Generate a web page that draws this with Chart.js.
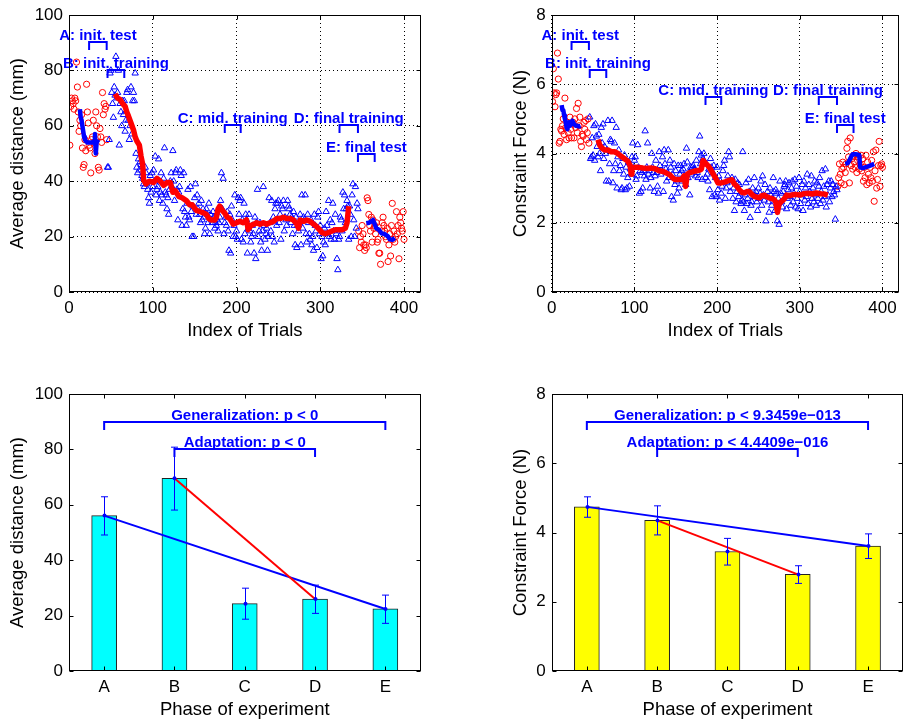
<!DOCTYPE html>
<html>
<head>
<meta charset="utf-8">
<script src="https://cdn.jsdelivr.net/npm/chart.js@4.4.1/dist/chart.umd.min.js"></script>
<style>
  html, body { margin: 0; padding: 0; background: #fff; }
  #wrap { position: relative; width: 904px; height: 724px; overflow: hidden; }
  canvas { position: absolute; }
</style>
</head>
<body>
<div id="wrap">
  <canvas id="distTrials" width="452" height="362" style="left:0;top:0"></canvas>
  <canvas id="forceTrials" width="452" height="362" style="left:452px;top:0"></canvas>
  <canvas id="distPhases" width="452" height="362" style="left:0;top:362px"></canvas>
  <canvas id="forcePhases" width="452" height="362" style="left:452px;top:362px"></canvas>
</div>
<script>
const trialTicks = [0, 100, 200, 300, 400];
const phases = ['A', 'B', 'C', 'D', 'E'];
const phaseNames = ['A: init. test', 'B: init. training', 'C: mid. training', 'D: final training', 'E: final test'];
const phaseWindows = [[24, 45], [46, 66], [186, 205], [323, 345], [345, 365]];
const firstTrain = 46;
const firstTest2 = 346;

// average distance (mm), trials 1-45 / 46-345 / 346-400
const distTest1 = [
    53, 67, 70, 69, 68, 66, 70, 69, 83, 74,
    65, 58, 62, 60, 64, 52, 45, 46, 55, 51,
    75, 65, 61, 53, 52, 43, 55, 56, 62, 54,
    50, 65, 60, 56, 45, 44, 59, 56, 54, 72,
    64, 68, 66, 67, 55
];
const distTrain = [
    45, 45, 55, 79, 80, 72, 68, 63, 74, 71,
    85, 70, 72, 80, 53, 68, 65, 60, 69, 64,
    69, 58, 62, 72, 73, 62, 55, 60, 74, 57,
    69, 72, 69, 79, 50, 45, 43, 48, 44, 47,
    46, 42, 41, 39, 38, 45, 43, 39, 37, 34,
    32, 42, 36, 43, 38, 44, 40, 49, 35, 37,
    38, 48, 33, 36, 43, 35, 32, 41, 52, 36,
    35, 30, 34, 28, 37, 40, 43, 38, 51, 40,
    33, 43, 44, 37, 26, 36, 38, 44, 42, 24,
    30, 43, 29, 27, 24, 32, 37, 27, 26, 38,
    29, 20, 31, 20, 34, 39, 28, 35, 30, 32,
    28, 25, 33, 26, 30, 27, 21, 23, 30, 28,
    25, 32, 21, 28, 26, 25, 29, 27, 23, 25,
    24, 26, 22, 25, 27, 33, 43, 30, 41, 21,
    25, 27, 24, 29, 22, 15, 28, 14, 31, 26,
    20, 24, 35, 20, 22, 19, 34, 28, 33, 34,
    19, 26, 18, 32, 21, 28, 26, 14, 23, 28,
    22, 18, 20, 24, 21, 14, 27, 12, 25, 37,
    20, 22, 25, 18, 15, 22, 38, 24, 19, 21,
    23, 15, 20, 34, 25, 22, 33, 20, 27, 18,
    30, 32, 24, 32, 33, 25, 28, 19, 31, 30,
    33, 22, 27, 26, 24, 33, 31, 30, 28, 25,
    27, 21, 29, 24, 17, 27, 16, 24, 22, 25,
    28, 17, 35, 23, 27, 26, 35, 21, 18, 28,
    25, 21, 19, 26, 17, 20, 15, 28, 24, 22,
    16, 27, 29, 21, 24, 12, 20, 13, 18, 23,
    17, 29, 24, 21, 33, 20, 26, 19, 25, 32,
    22, 19, 28, 21, 12, 8, 19, 20, 27, 26,
    22, 36, 30, 35, 25, 30, 33, 31, 19, 31,
    28, 20, 35, 39, 26, 20, 38, 23, 32, 30
];
const distTest2 = [
    22, 16, 20, 18, 24, 21, 17, 15, 17, 16,
    34, 33, 28, 24, 22, 27, 18, 26, 23, 24,
    21, 25, 18, 19, 14, 14, 10, 22, 25, 27,
    24, 22, 20, 19, 23, 11, 17, 21, 13, 24,
    32, 19, 22, 18, 20, 29, 21, 24, 12, 27,
    25, 23, 22, 29, 19
];
const distTestLine1 = [[13, 66], [14, 63], [15, 62], [16, 60], [17, 58], [18, 56], [19, 55], [20, 54.5], [22, 54], [25, 54], [28, 54], [30, 54.5], [31, 57], [32, 50], [33, 54], [35, 55]];
const distTestLine2 = [[355, 24.8], [358, 25], [361, 25.5], [363, 26], [365, 24.5], [367, 23], [370, 22.5], [373, 21.2], [376, 21], [379, 20.5], [381, 20], [383, 19], [386, 18.8], [389, 19.5]];
const distTrainLine = [
    [55, 71.5], [58, 70], [61, 69.5], [64, 68], [67, 67], [69, 65], [71, 63.5], [74, 61], [77, 58.5], [79, 56],
    [81, 54.5], [84, 53], [86, 49], [88, 46], [89, 40.5], [92, 39], [96, 40], [101, 39.5], [105, 41], [109, 40],
    [113, 38.5], [117, 39.5], [121, 39.5], [124, 36], [127, 36.5], [131, 34.5], [135, 34], [140, 33], [144, 31.5], [147, 31.5],
    [152, 29.5], [157, 29], [161, 28.5], [164, 28], [167, 26.5], [170, 26], [174, 26], [176, 27], [178, 30], [180, 31],
    [183, 29.5], [186, 28.5], [189, 27], [192, 26.5], [196, 24.5], [200, 25], [204, 25.5], [208, 25], [212, 26], [214, 22.5],
    [217, 24], [221, 24.5], [224, 25], [228, 24.5], [232, 25], [236, 24.5], [240, 25], [244, 25.5], [248, 26.5], [252, 26.5],
    [256, 27], [260, 26.5], [264, 26.5], [268, 26], [272, 24.5], [274, 23], [276, 26], [280, 25.5], [284, 26], [288, 25.5],
    [292, 24.5], [296, 23.5], [299, 22.5], [302, 21.5], [306, 21], [310, 21.5], [314, 22], [318, 22.5], [322, 22.5], [326, 22.5],
    [330, 23], [332, 25], [334, 31]
];

// constraint force (N)
const forceTest1 = [
    5.5, 6.45, 5.75, 5.35, 5.7, 5.75, 6.9, 6.15, 4.3, 4.35,
    4.7, 4.65, 4.8, 5.0, 4.55, 5.6, 4.75, 4.4, 4.9, 4.6,
    4.45, 5.05, 4.7, 4.45, 4.85, 4.9, 4.45, 5.0, 4.75, 5.3,
    4.6, 5.45, 4.8, 5.05, 4.35, 4.2, 4.55, 4.5, 4.9, 4.7,
    4.95, 4.4, 4.6, 5.0, 4.3
];
const forceTrain = [
    5.05, 3.85, 3.9, 4.45, 3.95, 4.8, 3.8, 4.85, 4.5, 4.2,
    3.9, 4.55, 4.0, 3.5, 4.75, 4.3, 4.85, 3.85, 4.2, 4.0,
    3.2, 4.1, 4.95, 3.2, 3.7, 4.4, 4.35, 4.95, 3.15, 3.5,
    4.3, 3.7, 4.75, 3.0, 3.9, 4.1, 3.5, 3.65, 2.95, 3.0,
    3.85, 3.4, 3.95, 2.95, 3.6, 3.0, 3.3, 3.75, 3.05, 3.55,
    3.4, 3.9, 4.3, 3.6, 3.8, 3.9, 3.25, 3.35, 4.25, 3.6,
    2.85, 3.5, 2.9, 3.45, 3.0, 3.5, 3.35, 4.65, 3.25, 3.6,
    4.3, 3.4, 3.5, 3.0, 3.3, 4.0, 3.6, 3.45, 2.9, 3.35,
    3.8, 3.45, 3.05, 2.85, 4.05, 3.65, 3.4, 3.5, 3.9, 2.9,
    4.1, 3.7, 3.55, 3.2, 3.45, 4.1, 3.3, 3.8, 3.6, 2.75,
    3.4, 2.65, 3.7, 3.1, 3.5, 3.2, 2.85, 3.65, 3.0, 3.4,
    3.65, 3.5, 3.2, 3.55, 3.7, 3.35, 3.1, 4.15, 3.75, 3.3,
    3.45, 2.8, 3.6, 3.4, 3.6, 3.65, 3.55, 3.55, 3.35, 3.8,
    3.45, 3.3, 4.05, 4.5, 3.7, 3.95, 3.25, 3.85, 4.0, 3.75,
    3.3, 3.7, 3.4, 3.2, 3.55, 2.95, 3.85, 3.6, 2.75, 3.45,
    3.65, 2.8, 3.3, 2.75, 3.6, 2.95, 3.35, 2.65, 3.2, 2.85,
    3.05, 3.5, 3.65, 3.8, 2.7, 3.0, 3.15, 3.35, 4.05, 3.9,
    2.9, 3.2, 3.3, 2.7, 3.0, 2.35, 3.25, 2.6, 2.9, 3.15,
    2.75, 3.1, 2.85, 2.55, 2.65, 4.05, 2.6, 2.35, 2.8, 3.15,
    2.55, 2.7, 3.25, 2.9, 2.15, 2.5, 2.6, 3.0, 2.75, 3.3,
    2.8, 2.9, 2.6, 2.35, 3.0, 2.7, 2.85, 3.2, 2.5, 3.35,
    2.8, 2.65, 3.1, 2.05, 2.75, 2.9, 2.6, 2.3, 3.0, 2.8,
    2.5, 2.7, 3.3, 2.9, 2.35, 2.95, 2.85, 2.05, 2.7, 1.95,
    3.2, 2.85, 2.6, 2.45, 2.9, 3.05, 3.1, 3.2, 2.4, 2.7,
    2.95, 3.15, 2.75, 2.5, 3.0, 3.2, 2.6, 2.85, 3.25, 2.45,
    3.05, 2.7, 2.4, 3.3, 2.9, 2.55, 2.8, 3.1, 2.35, 3.2,
    2.65, 3.0, 2.75, 3.4, 2.55, 3.1, 2.9, 2.45, 3.35, 2.7,
    3.0, 2.6, 3.2, 2.8, 2.5, 3.15, 2.7, 3.05, 3.3, 2.55,
    2.9, 3.5, 2.65, 3.05, 2.75, 3.55, 2.45, 3.1, 2.8, 3.2,
    2.6, 3.0, 3.2, 2.75, 3.1, 2.9, 2.8, 2.1, 3.05, 2.95
];
const forceTest2 = [
    3.05, 3.3, 3.7, 3.4, 3.15, 3.55, 3.75, 3.6, 3.1, 3.45,
    3.7, 4.15, 4.35, 3.9, 3.15, 4.45, 3.65, 3.85, 3.55, 3.95,
    3.75, 3.6, 4.0, 3.45, 3.8, 3.9, 3.55, 3.7, 3.95, 3.5,
    3.85, 3.2, 3.6, 3.3, 3.95, 3.1, 3.75, 3.4, 3.15, 3.6,
    3.3, 3.8, 3.2, 4.05, 2.62, 3.5, 4.1, 3.0, 3.25, 3.65,
    4.35, 3.05, 3.65, 3.7, 3.6
];
const forceTestLine1 = [[12, 5.4], [13, 5.25], [14, 5.25], [15, 5.1], [16, 5.0], [17, 4.9], [18, 4.75], [19, 4.7], [20, 4.85], [21, 4.9], [22, 4.8], [24, 4.85], [25, 4.95], [27, 4.85], [29, 4.8], [31, 4.8], [33, 4.78], [35, 4.8]];
const forceTestLine2 = [[355, 3.7], [358, 3.72], [360, 3.8], [362, 3.9], [364, 3.98], [367, 3.98], [370, 3.97], [372, 3.95], [373, 3.6], [376, 3.58], [379, 3.6], [382, 3.62], [385, 3.65], [388, 3.68], [390, 3.7]];
const forceTrainLine = [
    [56, 4.4], [58, 4.25], [61, 4.15], [64, 4.1], [68, 4.1], [72, 4.05], [76, 4.05], [80, 4.0], [84, 3.92], [88, 3.85],
    [92, 3.78], [95, 3.65], [96, 3.4], [97, 3.55], [100, 3.6], [105, 3.6], [110, 3.58], [115, 3.57], [120, 3.58], [125, 3.56],
    [130, 3.5], [135, 3.48], [140, 3.42], [143, 3.38], [146, 3.3], [149, 3.25], [153, 3.25], [157, 3.25], [160, 3.35], [162, 3.05],
    [164, 3.4], [167, 3.45], [171, 3.48], [175, 3.5], [179, 3.52], [181, 3.55], [183, 3.8], [186, 3.72], [189, 3.65], [192, 3.55],
    [195, 3.42], [198, 3.3], [201, 3.15], [205, 3.15], [210, 3.18], [214, 3.22], [218, 3.24], [221, 3.12], [224, 3.05], [227, 2.95],
    [230, 2.88], [233, 2.86], [236, 2.9], [239, 2.9], [242, 2.82], [245, 2.76], [248, 2.74], [251, 2.72], [254, 2.78], [257, 2.8],
    [260, 2.75], [263, 2.72], [266, 2.7], [269, 2.67], [271, 2.6], [273, 2.3], [275, 2.55], [278, 2.62], [281, 2.68], [284, 2.8],
    [287, 2.78], [290, 2.8], [295, 2.82], [300, 2.8], [305, 2.84], [310, 2.85], [315, 2.83], [320, 2.86], [325, 2.84], [330, 2.83],
    [334, 2.8]
];

// phase means with error bar ends
const distMeans = [56.1, 69.6, 24.3, 26.0, 22.4];
const distLow = [49.1, 58.1, 18.7, 20.8, 17.2];
const distHigh = [62.9, 80.8, 29.9, 31.0, 27.4];
const forceMeans = [4.74, 4.35, 3.45, 2.79, 3.61];
const forceLow = [4.44, 3.93, 3.06, 2.53, 3.25];
const forceHigh = [5.03, 4.77, 3.83, 3.04, 3.96];
const distStats = ['Generalization: p < 0', 'Adaptation: p < 0'];
const forceStats = ['Generalization: p < 9.3459e\u2212013', 'Adaptation: p < 4.4409e\u2212016'];

const FONT = '"Liberation Sans", Arial, Helvetica, sans-serif';
const BLUE = '#0000ff';
const RED = '#ff0000';
const W = 452, H = 362;

Chart.defaults.font.family = FONT;
Chart.defaults.color = '#000';


function toPoints(values, start) {
    return values.map((v, i) => ({ x: start + i, y: v }));
}

function pairs(list) {
    return list.map(p => ({ x: p[0], y: p[1] }));
}

// brackets, labels, error bars, box and inward ticks like the matlab figure
function overlay(cfg) {
    return {
        id: 'overlay',
        afterDatasetsDraw(chart) {
            const { ctx, scales: { x, y } } = chart;
            ctx.save();
            if (cfg.errors) {
                ctx.strokeStyle = BLUE;
                ctx.fillStyle = BLUE;
                ctx.lineWidth = 1;
                cfg.errors.means.forEach((m, i) => {
                    const px = Math.round(x.getPixelForValue(i + 1)) + 0.5;
                    const lo = y.getPixelForValue(cfg.errors.low[i]);
                    const hi = y.getPixelForValue(cfg.errors.high[i]);
                    ctx.beginPath();
                    ctx.moveTo(px, lo); ctx.lineTo(px, hi);
                    ctx.moveTo(px - 3.5, lo); ctx.lineTo(px + 3.5, lo);
                    ctx.moveTo(px - 3.5, hi); ctx.lineTo(px + 3.5, hi);
                    ctx.stroke();
                    ctx.beginPath();
                    ctx.arc(px, y.getPixelForValue(m), 2, 0, Math.PI * 2);
                    ctx.fill();
                });
            }
            ctx.font = 'bold 15px ' + FONT;
            ctx.textAlign = 'center';
            ctx.textBaseline = 'alphabetic';
            ctx.lineWidth = 2;
            ctx.strokeStyle = BLUE;
            ctx.fillStyle = BLUE;
            cfg.brackets.forEach(b => {
                const x1 = x.getPixelForValue(b.from);
                const x2 = x.getPixelForValue(b.to);
                const py = Math.round(y.getPixelForValue(b.level));
                ctx.beginPath();
                ctx.moveTo(x1, py + 8);
                ctx.lineTo(x1, py);
                ctx.lineTo(x2, py);
                ctx.lineTo(x2, py + 8);
                ctx.stroke();
                ctx.fillText(b.text, (x1 + x2) / 2, py - 2);
            });
            ctx.restore();
        },
        afterDraw(chart) {
            const { ctx, chartArea: a, scales: { x, y } } = chart;
            const l = Math.round(a.left) + 0.5, r = Math.round(a.right) - 0.5;
            const t = Math.round(a.top) + 0.5, b = Math.round(a.bottom) - 0.5;
            ctx.save();
            ctx.strokeStyle = '#000';
            ctx.lineWidth = 1;
            ctx.beginPath();
            x.ticks.forEach(tk => {
                const p = Math.round(x.getPixelForValue(tk.value)) + 0.5;
                ctx.moveTo(p, b); ctx.lineTo(p, b - 4);
                ctx.moveTo(p, t); ctx.lineTo(p, t + 4);
            });
            y.ticks.forEach(tk => {
                const p = Math.round(y.getPixelForValue(tk.value)) + 0.5;
                ctx.moveTo(l, p); ctx.lineTo(l + 4, p);
                ctx.moveTo(r, p); ctx.lineTo(r - 4, p);
            });
            ctx.stroke();
            ctx.strokeRect(l, t, r - l, b - t);
            ctx.restore();
        }
    };
}


function axes(o) {
    return {
        x: {
            type: 'linear',
            min: o.xMin,
            max: o.xMax,
            offset: false,
            afterBuildTicks: s => { s.ticks = o.xTicks.map(v => ({ value: v })); },
            afterFit: s => { s.height = o.xHeight; s.paddingLeft = 0; s.paddingRight = 0; },
            grid: { display: o.grid, offset: false, color: '#000', lineWidth: 1, drawTicks: false },
            border: { display: false, dash: [1, 3] },
            ticks: { color: '#000', font: { size: 17 }, padding: 6, maxRotation: 0, callback: o.xLabel },
            title: { display: true, text: o.xTitle, color: '#000', font: { size: 18.5 }, padding: { top: 0, bottom: o.xTitlePad } }
        },
        y: {
            min: 0,
            max: o.yMax,
            afterBuildTicks: s => { s.ticks = o.yTicks.map(v => ({ value: v })); },
            afterFit: s => { s.width = o.yWidth; s.paddingTop = 0; s.paddingBottom = 0; },
            grid: { display: o.grid, color: '#000', lineWidth: 1, drawTicks: false },
            border: { display: false, dash: [1, 3] },
            ticks: { color: '#000', font: { size: 17 }, padding: 6 },
            title: { display: true, text: o.yTitle, color: '#000', font: { size: 18.5 }, padding: { top: o.yTitlePad, bottom: 0 } }
        }
    };
}


function trialChart(id, d) {
    new Chart(document.getElementById(id), {
        type: 'scatter',
        data: {
            datasets: [
                {
                    data: toPoints(d.test1, 1).concat(toPoints(d.test2, firstTest2)),
                    pointStyle: 'circle', pointRadius: 3.1, pointBorderWidth: 1,
                    borderColor: RED, pointBorderColor: RED, pointBackgroundColor: 'rgba(0,0,0,0)', order: 3
                },
                {
                    data: toPoints(d.train, firstTrain),
                    pointStyle: 'triangle', pointRadius: 3.7, pointBorderWidth: 1,
                    borderColor: BLUE, pointBorderColor: BLUE, pointBackgroundColor: 'rgba(0,0,0,0)', order: 2
                },
                { data: pairs(d.line1), showLine: true, borderColor: BLUE, borderWidth: 4.5, pointRadius: 0, borderJoinStyle: 'round', order: 1 },
                { data: pairs(d.line2), showLine: true, borderColor: BLUE, borderWidth: 4.5, pointRadius: 0, borderJoinStyle: 'round', order: 1 },
                { data: pairs(d.trainLine), showLine: true, borderColor: RED, borderWidth: 5.5, pointRadius: 0, borderJoinStyle: 'round', order: 0 }
            ]
        },
        options: {
            responsive: false,
            animation: false,
            events: [],
            layout: { padding: { left: 0, top: 15, right: W - d.yWidth - 351.75, bottom: 0 } },
            plugins: { legend: { display: false }, tooltip: { enabled: false } },
            scales: axes({
                xMin: 0, xMax: 420, xTicks: trialTicks, xHeight: H - 292, xTitle: 'Index of Trials', xTitlePad: 20,
                yMax: d.yMax, yTicks: d.yTicks, yWidth: d.yWidth, yTitle: d.yTitle, yTitlePad: d.yTitlePad, grid: true
            })
        },
        plugins: [overlay({
            brackets: phaseWindows.map((w, i) => ({ from: w[0], to: w[1], level: d.levels[i], text: phaseNames[i] }))
        })]
    });
}


function phaseChart(id, d) {
    new Chart(document.getElementById(id), {
        type: 'scatter',
        data: {
            datasets: [
                {
                    type: 'bar',
                    data: toPoints(d.means, 1),
                    barThickness: 25,
                    backgroundColor: d.color,
                    borderColor: '#222',
                    borderWidth: 1,
                    order: 3
                },
                { data: [{ x: 1, y: d.means[0] }, { x: 5, y: d.means[4] }], showLine: true, borderColor: BLUE, borderWidth: 2, pointRadius: 0, order: 1 },
                { data: [{ x: 2, y: d.means[1] }, { x: 4, y: d.means[3] }], showLine: true, borderColor: RED, borderWidth: 2, pointRadius: 0, order: 0 }
            ]
        },
        options: {
            responsive: false,
            animation: false,
            events: [],
            layout: { padding: { left: 0, top: 32, right: W - d.yWidth - 351.5, bottom: 0 } },
            plugins: { legend: { display: false }, tooltip: { enabled: false } },
            scales: axes({
                xMin: 0.5, xMax: 5.5, xTicks: [1, 2, 3, 4, 5], xHeight: H - 309, xLabel: v => phases[v - 1],
                xTitle: 'Phase of experiment', xTitlePad: 3,
                yMax: d.yMax, yTicks: d.yTicks, yWidth: d.yWidth, yTitle: d.yTitle, yTitlePad: d.yTitlePad, grid: false
            })
        },
        plugins: [overlay({
            errors: { means: d.means, low: d.low, high: d.high },
            brackets: [
                { from: 1, to: 5, level: d.levels[0], text: d.stats[0] },
                { from: 2, to: 4, level: d.levels[1], text: d.stats[1] }
            ]
        })]
    });
}


trialChart('distTrials', {
    test1: distTest1, train: distTrain, test2: distTest2,
    line1: distTestLine1, line2: distTestLine2, trainLine: distTrainLine,
    yMax: 100, yTicks: [0, 20, 40, 60, 80, 100], yWidth: 69, yTitle: 'Average distance (mm)', yTitlePad: 7,
    levels: [90.4, 80.1, 60.2, 60.2, 50]
});

trialChart('forceTrials', {
    test1: forceTest1, train: forceTrain, test2: forceTest2,
    line1: forceTestLine1, line2: forceTestLine2, trainLine: forceTrainLine,
    yMax: 8, yTicks: [0, 2, 4, 6, 8], yWidth: 99.7, yTitle: 'Constraint Force (N)', yTitlePad: 57.6,
    levels: [7.23, 6.41, 5.62, 5.62, 4.82]
});

phaseChart('distPhases', {
    means: distMeans, low: distLow, high: distHigh, color: '#00ffff', stats: distStats,
    yMax: 100, yTicks: [0, 20, 40, 60, 80, 100], yWidth: 69, yTitle: 'Average distance (mm)', yTitlePad: 7,
    levels: [90, 80]
});

phaseChart('forcePhases', {
    means: forceMeans, low: forceLow, high: forceHigh, color: '#ffff00', stats: forceStats,
    yMax: 8, yTicks: [0, 2, 4, 6, 8], yWidth: 99.7, yTitle: 'Constraint Force (N)', yTitlePad: 57.6,
    levels: [7.2, 6.4]
});
</script>
</body>
</html>
